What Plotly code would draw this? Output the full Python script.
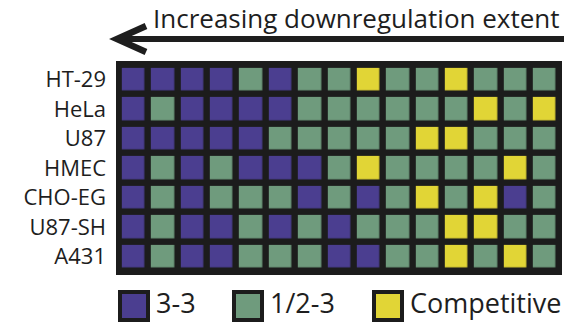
import plotly.graph_objects as go

W, H = 566, 326

# Cell lines (top to bottom) and the 15 targets ordered by downregulation extent
cell_lines = ["HT-29", "HeLa", "U87", "HMEC", "CHO-EG", "U87-SH", "A431"]
n_cols = 15

# 0 = "3-3", 1 = "1/2-3", 2 = "Competitive"
mode_ht29 =  [0, 0, 0, 0, 1, 0, 1, 1, 2, 1, 1, 2, 1, 1, 1]
mode_hela =  [0, 1, 0, 0, 0, 0, 1, 1, 1, 1, 1, 1, 2, 1, 2]
mode_u87 =   [0, 0, 0, 0, 0, 1, 1, 1, 1, 1, 2, 2, 1, 1, 1]
mode_hmec =  [0, 1, 0, 1, 0, 0, 0, 1, 2, 1, 1, 1, 1, 2, 1]
mode_choeg = [0, 1, 0, 1, 1, 1, 0, 1, 0, 1, 2, 1, 2, 0, 1]
mode_u87sh = [0, 1, 0, 0, 1, 0, 1, 0, 1, 1, 1, 2, 2, 1, 1]
mode_a431 =  [0, 1, 0, 0, 1, 1, 1, 0, 0, 1, 1, 2, 1, 2, 1]

legend_labels = ["3-3", "1/2-3", "Competitive"]
title_text = "Increasing downregulation extent"

PURPLE, GREEN, YELLOW = "#4b3e90", "#6f9b7d", "#e1d536"
FRAME = "#1c1c1c"
INK = "#1e1e1e"
FONT = "Open Sans"

z = [mode_ht29, mode_hela, mode_u87, mode_hmec, mode_choeg, mode_u87sh, mode_a431]

colorscale = [
    [0.0, PURPLE], [1 / 3, PURPLE],
    [1 / 3, GREEN], [2 / 3, GREEN],
    [2 / 3, YELLOW], [1.0, YELLOW],
]

# grid placement in pixels
gx0, gx1 = 116, 562
gy0, gy1 = 61, 275

fig = go.Figure()

fig.add_trace(go.Heatmap(
    z=z,
    x=list(range(n_cols)),
    y=cell_lines,
    zmin=-0.5, zmax=2.5,
    colorscale=colorscale,
    showscale=False,
    xgap=6.5, ygap=6.5,
    hoverinfo="skip",
    xaxis="x", yaxis="y",
))

# legend swatches on their own axis strip below the grid
sw_x = [134, 248, 388]
for lab, col, xc in zip(legend_labels, [PURPLE, GREEN, YELLOW], sw_x):
    fig.add_trace(go.Scatter(
        x=[xc], y=[0], mode="markers",
        marker=dict(symbol="square", size=28, color=col,
                    line=dict(color=FRAME, width=4)),
        xaxis="x2", yaxis="y2", showlegend=False, hoverinfo="skip",
    ))
    fig.add_trace(go.Scatter(
        x=[xc + 22], y=[0], mode="text", text=[lab],
        textposition="middle right",
        textfont=dict(family=FONT, size=27, color=INK),
        xaxis="x2", yaxis="y2", showlegend=False, hoverinfo="skip",
    ))

ex, ey = 0.095, 0.13
fig.update_layout(
    width=W, height=H,
    margin=dict(l=0, r=0, t=0, b=0),
    paper_bgcolor="white",
    plot_bgcolor="white",
    showlegend=False,
    xaxis=dict(domain=[gx0 / W, gx1 / W], range=[-0.5 - ex, n_cols - 0.5 + ex],
               showticklabels=False, showgrid=False, zeroline=False, ticks=""),
    yaxis=dict(domain=[1 - gy1 / H, 1 - gy0 / H],
               range=[len(cell_lines) - 0.5 + ey, -0.5 - ey],
               showgrid=False, zeroline=False, ticks="",
               tickfont=dict(family=FONT, size=22, color=INK),
               ticklabelstandoff=9),
    xaxis2=dict(domain=[0, 1], range=[0, W], visible=False),
    yaxis2=dict(domain=[0, 1 - 286 / H], range=[-1, 1], visible=False),
)

# dark frame behind the grid cells
fig.add_shape(type="rect", xref="x domain", yref="y domain",
              x0=0, x1=1, y0=0, y1=1, layer="below",
              fillcolor=FRAME, line=dict(width=0))

# heading with a left-pointing arrow underneath
fig.add_annotation(
    x=562 / W, y=1 - 18 / H, xref="paper", yref="paper",
    text=title_text, showarrow=False, xanchor="right", yanchor="middle",
    font=dict(family=FONT, size=26, color=INK),
)
fig.add_shape(type="line", xref="paper", yref="paper",
              x0=120 / W, x1=564 / W, y0=1 - 39 / H, y1=1 - 39 / H,
              line=dict(color=INK, width=6))
fig.add_shape(type="path", xref="paper", yref="paper",
              path=f"M {146 / W},{1 - 26 / H} L {117 / W},{1 - 39 / H} L {146 / W},{1 - 52 / H}",
              line=dict(color=INK, width=6.5))

fig.write_html("out.html")
